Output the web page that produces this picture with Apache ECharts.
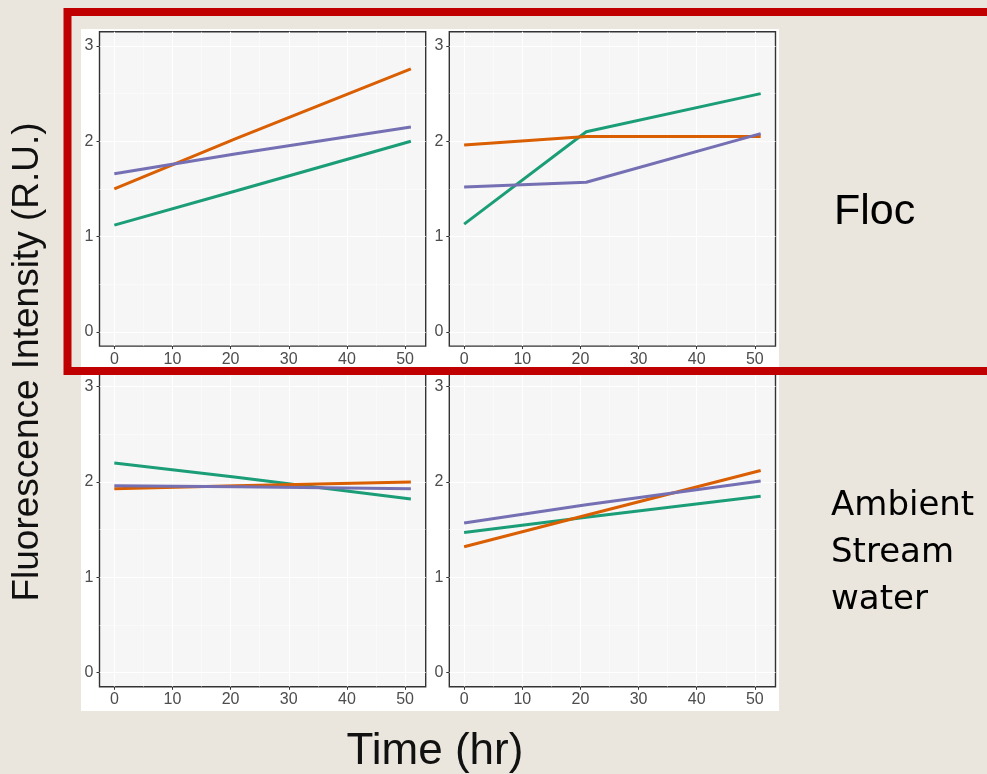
<!DOCTYPE html>
<html>
<head>
<meta charset="utf-8">
<script src="https://cdn.jsdelivr.net/npm/echarts@6/dist/echarts.min.js"></script>
<style>
  html, body { margin: 0; padding: 0; background: #EAE6DD; }
  #chart { width: 987px; height: 774px; }
</style>
</head>
<body>
<div id="chart"></div>
<script>
// ---- data ----
const times = [0, 21, 51];
const xTicks = [0, 10, 20, 30, 40, 50];
const yTicks = [0, 1, 2, 3];
const xMinor = [5, 15, 25, 35, 45];
const yMinor = [0.5, 1.5, 2.5];
const seriesNames = ['A', 'B', 'C'];

// Floc, left panel
const flocL_green = [1.12, 1.48, 2.00];
const flocL_orange = [1.50, 2.03, 2.76];
const flocL_purple = [1.66, 1.87, 2.15];
// Floc, right panel
const flocR_green = [1.13, 2.10, 2.50];
const flocR_orange = [1.96, 2.05, 2.05];
const flocR_purple = [1.52, 1.57, 2.08];
// Ambient stream water, left panel
const ambL_green = [2.20, 2.05, 1.82];
const ambL_orange = [1.93, 1.96, 2.00];
const ambL_purple = [1.96, 1.95, 1.93];
// Ambient stream water, right panel
const ambR_green = [1.47, 1.63, 1.85];
const ambR_orange = [1.32, 1.65, 2.12];
const ambR_purple = [1.57, 1.76, 2.01];

const panelData = [
  [flocL_green, flocL_orange, flocL_purple],
  [flocR_green, flocR_orange, flocR_purple],
  [ambL_green, ambL_orange, ambL_purple],
  [ambR_green, ambR_orange, ambR_purple]
];

// ---- layout / style ----
const colors = ['#1B9E77', '#D95F02', '#7570B3'];
const layout = [
  { left: 99.5, top: 31.7 },
  { left: 449.3, top: 31.7 },
  { left: 99.5, top: 372.4 },
  { left: 449.3, top: 372.4 }
];
const gw = 326.2, gh = 314.4;
const xRange = [-2.55, 53.55];
const yRange = [-0.15, 3.15];
const tickFont = { fontFamily: 'Liberation Sans, Arial, sans-serif', fontSize: 16, color: '#4D4D4D' };

const grids = [], xAxes = [], yAxes = [], series = [];
layout.forEach((p, i) => {
  grids.push({
    left: p.left, top: p.top, width: gw, height: gh,
    show: true, backgroundColor: '#F6F6F6', borderColor: '#333333', borderWidth: 1.4,
    containLabel: false, z: 1
  });
  // major axes
  xAxes.push({
    type: 'value', gridIndex: i, min: xRange[0], max: xRange[1], position: 'bottom',
    axisLine: { show: false, onZero: false },
    axisTick: { show: true, length: 3, lineStyle: { color: '#333333', width: 1 }, customValues: xTicks },
    axisLabel: Object.assign({ show: true, margin: 5, customValues: xTicks }, tickFont),
    splitLine: { show: true, lineStyle: { color: '#FFFFFF', width: 1.1 } },
    z: 2
  });
  yAxes.push({
    type: 'value', gridIndex: i, min: yRange[0], max: yRange[1], position: 'left',
    axisLine: { show: false, onZero: false },
    axisTick: { show: true, length: 3, lineStyle: { color: '#333333', width: 1 }, customValues: yTicks },
    axisLabel: Object.assign({ show: true, margin: 6, customValues: yTicks }, tickFont),
    splitLine: { show: true, lineStyle: { color: '#FFFFFF', width: 1.1 } },
    z: 2
  });
  // minor grid axes
  xAxes.push({
    type: 'value', gridIndex: i, min: xRange[0], max: xRange[1], position: 'bottom',
    axisLine: { show: false, onZero: false },
    axisTick: { show: false, customValues: xMinor },
    axisLabel: { show: false, customValues: xMinor },
    splitLine: { show: true, lineStyle: { color: '#FFFFFF', width: 0.5 } },
    z: 2
  });
  yAxes.push({
    type: 'value', gridIndex: i, min: yRange[0], max: yRange[1], position: 'left',
    axisLine: { show: false, onZero: false },
    axisTick: { show: false, customValues: yMinor },
    axisLabel: { show: false, customValues: yMinor },
    splitLine: { show: true, lineStyle: { color: '#FFFFFF', width: 0.5 } },
    z: 2
  });
  panelData[i].forEach((vals, s) => {
    series.push({
      type: 'line', name: seriesNames[s],
      xAxisIndex: 2 * i, yAxisIndex: 2 * i,
      data: times.map((t, k) => [t, vals[k]]),
      symbol: 'none', silent: true, animation: false,
      lineStyle: { color: colors[s], width: 3 },
      z: 5
    });
  });
});

const chart = echarts.init(document.getElementById('chart'), null, { renderer: 'canvas' });
chart.setOption({
  backgroundColor: '#EAE6DD',
  animation: false,
  grid: grids,
  xAxis: xAxes,
  yAxis: yAxes,
  series: series,
  graphic: [
    { type: 'rect', z: -10, shape: { x: 81, y: 29, width: 698, height: 682 }, style: { fill: '#FFFFFF' } },
    { type: 'rect', z: 100, shape: { x: 67.5, y: 12, width: 926, height: 359 },
      style: { fill: 'none', stroke: '#C00000', lineWidth: 8 } },
    { type: 'text', z: 100, x: 834, y: 212,
      style: { text: 'Floc', fontFamily: 'Liberation Sans, Arial, sans-serif', fontSize: 43, fill: '#000', textAlign: 'left', textVerticalAlign: 'middle' } },
    { type: 'text', z: 100, x: 831, y: 506,
      style: { text: 'Ambient', fontFamily: 'DejaVu Sans, sans-serif', fontSize: 34, fill: '#000', textAlign: 'left', textVerticalAlign: 'middle' } },
    { type: 'text', z: 100, x: 831, y: 553,
      style: { text: 'Stream', fontFamily: 'DejaVu Sans, sans-serif', fontSize: 34, fill: '#000', textAlign: 'left', textVerticalAlign: 'middle' } },
    { type: 'text', z: 100, x: 831, y: 600,
      style: { text: 'water', fontFamily: 'DejaVu Sans, sans-serif', fontSize: 34, fill: '#000', textAlign: 'left', textVerticalAlign: 'middle' } },
    { type: 'text', z: 100, x: 28, y: 362, rotation: Math.PI / 2,
      style: { text: 'Fluorescence Intensity (R.U.)', fontFamily: 'Liberation Sans, Arial, sans-serif', fontSize: 37, fill: '#111', textAlign: 'center', textVerticalAlign: 'middle' } },
    { type: 'text', z: 100, x: 435, y: 752,
      style: { text: 'Time (hr)', fontFamily: 'Liberation Sans, Arial, sans-serif', fontSize: 44, fill: '#111', textAlign: 'center', textVerticalAlign: 'middle' } }
  ]
});
</script>
</body>
</html>
